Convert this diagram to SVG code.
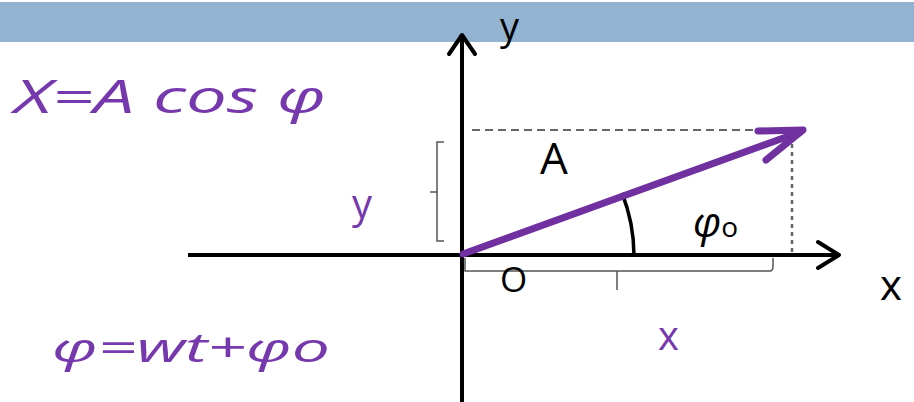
<svg xmlns="http://www.w3.org/2000/svg" width="914" height="402" viewBox="0 0 914 402">
<style>
.ax{stroke:#000;stroke-width:4;fill:none}
.head{stroke:#000;stroke-width:4;fill:none;stroke-linecap:round;stroke-linejoin:round}
.brk{stroke:#555;stroke-width:1.5;fill:none}
.pt{fill:#7638ad;font-family:"Open Sans","DejaVu Sans",sans-serif;font-style:italic}
.bt{fill:#000;font-family:"Open Sans","DejaVu Sans",sans-serif}
.pu{fill:#7638ad;font-family:"Open Sans","DejaVu Sans",sans-serif}
</style>
<rect x="0" y="0" width="914" height="402" fill="#fff"/>
<rect x="0" y="2" width="914" height="40" fill="#93b3d1"/>
<g id="formula1"><text class="pt" x="14" y="113" font-size="46" textLength="312" lengthAdjust="spacingAndGlyphs">X=A cos φ</text></g>
<g id="formula2"><text class="pt" x="52" y="362" font-size="40" textLength="278" lengthAdjust="spacingAndGlyphs">φ=wt+φo</text></g>
<g id="connectors">
<line class="ax" x1="462" y1="36" x2="462" y2="402"/>
<polyline class="head" points="449,54 462,35 475,54"/>
<line class="ax" x1="188" y1="255" x2="838" y2="255"/>
<polyline class="head" points="818,242 839,255 818,268"/>
<line x1="472" y1="130" x2="790" y2="130" stroke="#666" stroke-width="2" stroke-dasharray="8,5"/>
<line x1="792" y1="136" x2="792" y2="254" stroke="#666" stroke-width="2.5" stroke-dasharray="4,4"/>
<path class="brk" d="M444,142 H437 V241 H444 M437,192 H430"/>
<path class="brk" d="M465,258 V271 H770 Q773,271 773,266 V258 M617,271 V290"/>
<path d="M634,255 A172,172 0 0 0 622,193" stroke="#000" stroke-width="3.5" fill="none"/>
<line x1="463" y1="254" x2="800" y2="132" stroke="#7030a0" stroke-width="7" stroke-linecap="round"/>
<polyline points="758,131 803,130 766,160" stroke="#7030a0" stroke-width="7" fill="none" stroke-linecap="round" stroke-linejoin="round"/>
</g>
<g id="labels">
<text class="bt" x="500" y="40" font-size="38">y</text>
<text class="bt" x="540" y="174" font-size="44">A</text>
<text class="pu" x="352" y="218" font-size="40">y</text>
<text class="bt" x="693" y="237" font-size="42" font-style="italic">φ<tspan font-size="28" font-style="normal">o</tspan></text>
<text class="bt" x="500" y="292" font-size="35">O</text>
<text class="bt" x="880" y="300" font-size="42">x</text>
<text class="pu" x="658" y="350" font-size="40">x</text>
</g>
</svg>
